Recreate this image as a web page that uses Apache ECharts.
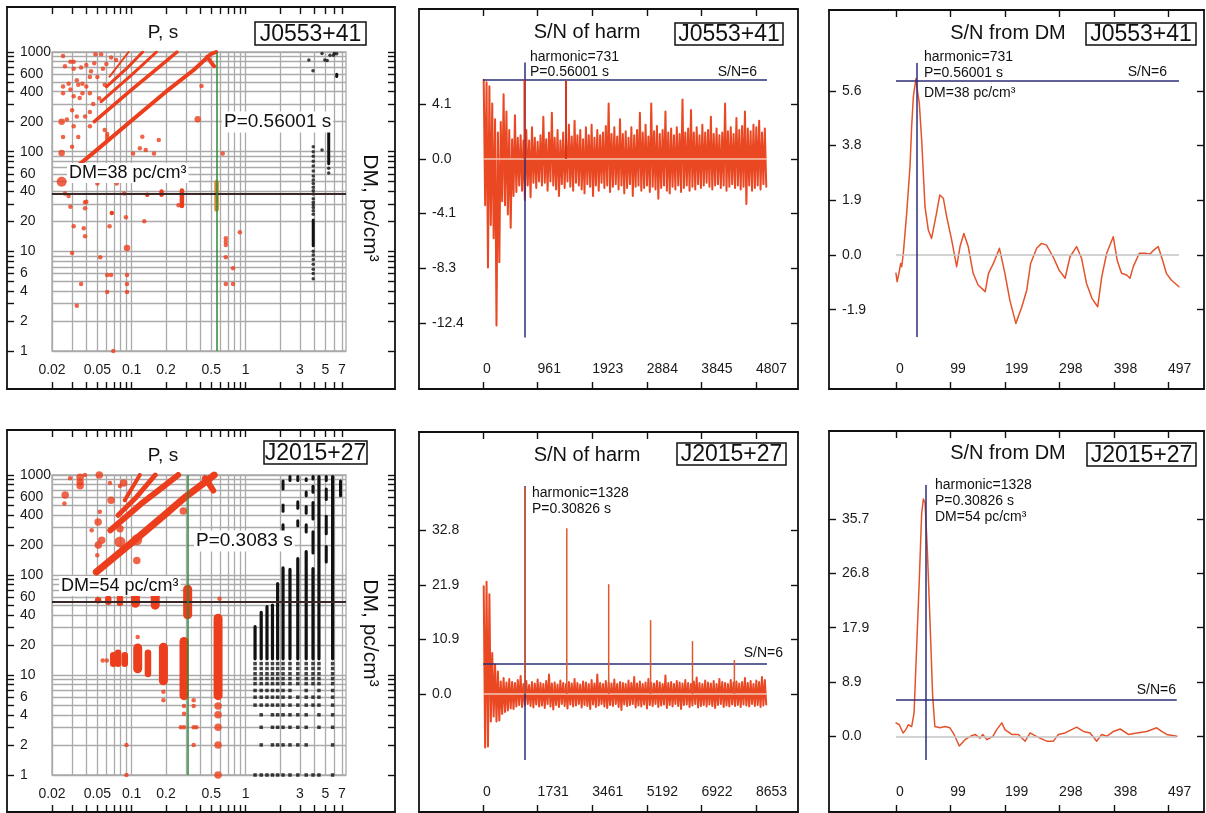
<!DOCTYPE html>
<html>
<head>
<meta charset="utf-8">
<title>Pulsar candidates J0553+41 / J2015+27</title>
<script src="https://cdn.jsdelivr.net/npm/echarts@6.0.0/dist/echarts.min.js"></script>
<style>
  html, body { margin: 0; padding: 0; background: #fff; }
  #chart { width: 1206px; height: 813px; }
</style>
</head>
<body>
<div id="chart"></div>
<script>
// ---- tick values / labels ----
var pGrid = [0.02,0.03,0.04,0.05,0.06,0.07,0.08,0.09,0.1,0.2,0.3,0.4,0.5,0.6,0.7,0.8,0.9,1,2,3,4,5,6,7];
var pLabels = [0.02,0.05,0.1,0.2,0.5,1,3,5,7];
var dmGrid = [1,2,3,4,5,6,7,8,9,10,20,30,40,50,60,70,80,90,100,200,300,400,500,600,700,800,900,1000];
var dmLabels = [1,2,4,6,10,20,40,60,100,200,400,600,1000];
var harm1Ticks = [0,961,1923,2884,3845,4807];
var harm1YTicks = [4.13,0,-4.13,-8.26,-12.39];
var harm2Ticks = [0,1731,3461,5192,6922,8653];
var harm2YTicks = [0,10.93,21.87,32.8];
var dmTicks = [0,99,199,298,398,497];
var sn1YTicks = [5.64,3.76,1.88,0,-1.88];
var sn2YTicks = [0,8.93,17.86,26.79,35.72];

// ---- J0553+41 : P-DM plane ----
var a1Period = 0.56001, a1DM = 38;
var a1Streak1 = [[0.034,73],[0.045,95],[0.1,205],[0.2,400],[0.35,660],[0.5,960],[0.55,1000]];
var a1Hook = [[0.46,900],[0.5,780],[0.53,720]];
var a1Streak2 = [[0.047,200],[0.1,420],[0.18,730],[0.25,1000]];
var a1Streak3 = [[0.054,317],[0.1,590],[0.165,1000]];
var a1Streak4 = [[0.06,447],[0.09,680],[0.125,1000]];
var a1Streak5 = [[0.064,565],[0.094,1000]];
var a1Dots = [
  [0.025,910],[0.029,800],[0.031,800],[0.048,950],[0.054,950],[0.066,880],[0.073,830],
  [0.026,720],[0.031,680],[0.036,700],[0.04,740],[0.044,640],[0.047,770],
  [0.025,450],[0.028,480],[0.029,420],[0.033,520],[0.034,470],[0.037,480],[0.04,450],[0.043,560],[0.05,560],[0.056,680],[0.06,760],
  [0.025,385],[0.031,360],[0.035,345],[0.037,385],[0.043,385],[0.046,300],[0.052,343],[0.058,470],
  [0.027,210],[0.03,260],[0.033,225],[0.039,225],[0.043,250],
  [0.025,140],[0.031,180],[0.034,140],[0.043,180],[0.058,165],[0.061,150],[0.061,140],[0.061,131],
  [0.03,112],[0.124,141],[0.173,131],[0.133,104],[0.103,96],[0.118,108],[0.157,96],[0.41,455],[0.63,96],
  [0.026,38],[0.028,36],[0.05,48],[0.074,48],[0.096,51],[0.086,38],[0.04,31.5],[0.029,28],[0.039,31],[0.039,27],
  [0.089,22],[0.129,20],[0.031,17.9],[0.038,17],[0.039,14.2],[0.064,17.9],[0.03,9.6],[0.053,8.7],
  [0.061,5.8],[0.066,5.8],[0.091,5.8],[0.036,4.7],[0.091,4.7],[0.061,3.9],[0.091,3.9],[0.033,2.85],[0.069,1],
  [0.67,13.5],[0.67,12.5],[0.67,11.6],[0.89,15.5],[0.67,8.7],[0.775,6.75],[0.67,4.7],[0.775,4.7],[0.258,29]
];
var a1MidDots = [[0.0243,200],[0.0243,97],[0.38,211],[0.091,10.8]];
var a1BigDots = [[0.0243,50]];
var a1RedBars = [[0.183,35,42],[0.276,27,43],[0.137,35,39],[0.067,23,25.5]];
var a1OrangeBars = [[0.556,25,52]];
var a1BlackDots = [
  [3.92,112],[3.92,100],[3.92,90],[3.92,80],[3.92,72],[3.92,64],[3.92,57],[3.92,52],[3.92,48],[3.92,44],
  [3.92,40.5],[3.92,37.5],[3.92,33.6],[3.92,31],[3.92,29.4],[3.92,27.5],[3.92,25.5],[3.92,23.6],
  [3.92,10],[3.92,9.2],[3.92,8.3],[3.92,7.4],[3.92,6.6],[3.92,6],[3.92,5.3],
  [5.36,68],[5.36,61],[4.68,104],[3.59,829],[3.9,648],[4.68,968],[4.95,829],[5.2,820],[5.5,930],[5.9,930],[6.0,968],[6.3,960]
];
var a1BlackBars = [[3.92,11,21.4],[5.36,73,165],[6.3,550,620]];

// ---- J2015+27 : P-DM plane ----
var a2Period = 0.3083, a2DM = 54;
var a2Streak1 = [[0.049,107],[0.1,210],[0.2,410],[0.3,610],[0.455,870],[0.53,1000]];
var a2Hook = [[0.44,930],[0.49,780],[0.52,700]];
var a2Streak2 = [[0.065,280],[0.12,510],[0.2,800],[0.256,1000]];
var a2Streak3 = [[0.076,396],[0.11,600],[0.161,1000]];
var a2Streak4 = [[0.087,559],[0.118,1000]];
var a2BigDots = [[0.079,214],[0.111,225]];
var a2MidDots = [
  [0.066,560],[0.052,1000],[0.0261,631],[0.111,140],[0.079,290],[0.0508,339],[0.0546,222],[0.051,200],
  [0.284,436],[0.0353,950],[0.0353,850],[0.0353,780],[0.085,830],
  [0.573,4.9],[0.573,4],[0.573,3],[0.573,2],[0.573,1]
];
var a2SmallDots = [
  [0.0257,520],[0.0288,928],[0.0389,1000],[0.0526,430],[0.0446,280],[0.0499,158],[0.59,58],[0.0645,830],[0.0789,775],
  [0.0557,14],[0.0605,14],[0.19,6.8],[0.19,5.6],[0.288,4.9],[0.288,4.1],[0.288,3],[0.35,5.6],[0.35,4.9],
  [0.35,3],[0.35,2],[0.37,3],[0.113,24],[0.09,2],[0.09,1],[0.27,3]
];
var a2RedBarsWide = [[0.31,36,80],[0.161,45,70],[0.108,47,66],[0.113,10.4,20.7],[0.19,7.9,21],[0.288,5.6,24],[0.573,5.6,41]];
var a2RedBarsNarrow = [[0.0508,52,60],[0.0623,50,62],[0.0789,49,63],[0.069,12,17],[0.076,12,18],[0.087,12,17],[0.139,9.5,18]];
var a2BlackBars = [[1.21,14,31.6],[1.37,14,44],[1.54,14,50],[1.72,14,52],[1.91,14,85],[2.13,14,122],[2.45,14,118],
  [2.87,14,151],[3.4,14,178],[3.9,14,120],[4.4,14,1000],[5.8,14,1000]];
var a2BlackDashes = [[2.13,250,330],[2.13,420,520],[2.13,700,900],[2.87,300,360],[2.87,450,560],[3.4,260,330],
  [3.4,400,500],[3.4,600,700],[3.4,850,950],[3.9,160,280],[3.9,350,550],[3.9,650,800],[3.9,880,1000],
  [5.1,130,200],[5.1,250,400],[5.1,550,750],[5.1,850,1000],[6.8,600,900],[2.45,850,1000],[2.87,850,1000]];
var a2BlackRows = [
  [13, [1.21,1.37,1.54,1.72,1.91,2.13,2.45,2.87,3.4,3.9,4.4,5.8]],
  [11.6, [1.21,1.37,1.54,1.72,1.91,2.13,2.45,2.87,3.4,3.9,4.4,5.8]],
  [10.3, [1.21,1.37,1.54,1.72,1.91,2.13,2.45,2.87,3.4,3.9,4.4,5.8]],
  [9.2, [1.21,1.37,1.54,1.72,1.91,2.13,2.45,2.87,3.4,3.9,4.4,5.8]],
  [8.2, [1.21,1.37,1.54,1.72,1.91,2.13,2.45,2.87,3.4,3.9,4.4,5.8]],
  [7, [1.21,1.37,1.54,1.72,1.91,2.13,2.45,3.4,4.4,5.8]],
  [6, [1.21,1.37,1.54,1.72,1.91,2.13,2.45,2.87,3.4,3.9,4.4,5.8]],
  [5, [1.21,1.37,1.54,1.72,1.91,2.13,2.45,2.87,3.4,3.9,4.4,5.8]],
  [4, [1.37,1.72,1.91,2.13,2.45,2.87,3.4,4.4,5.8]],
  [3, [1.37,1.72,1.91,2.13,2.45,2.87,3.4,4.4,5.8]],
  [2, [1.37,1.72,1.91,2.13,2.45,2.87,3.4,5.8]],
  [1, [1.21,1.37,1.54,1.72,1.91,2.13,2.45,2.87,3.4,3.9,4.4,5.8]]
];

// ---- S/N of harmonics (per bin: upper / lower excursion) ----
var harm1Step = 50;
var harm1Up = [6.0,5.8,5.5,4.2,3.0,2.0,2.8,4.9,3.6,2.2, 1.5,3.3,1.6,1.8,1.4,2.2,1.4,2.4,1.6,1.3,
  1.8,3.2,1.5,2.0,3.5,1.6,2.2,1.4,2.0,1.5, 2.6,1.7,2.9,1.8,2.2,1.5,2.4,1.8,2.6,1.6,
  2.2,1.8,2.0,2.5,4.2,1.9,2.4,1.7,3.0,1.9, 2.1,1.6,2.4,1.8,2.2,3.5,2.0,2.6,1.7,4.2,
  2.1,2.5,1.9,2.2,3.6,2.0,2.3,1.8,2.4,1.9, 4.5,2.0,2.3,3.7,2.0,2.4,1.8,2.6,2.0,2.2,
  3.2,1.9,2.3,1.8,2.0,4.2,2.1,2.4,1.9,3.1, 2.2,2.5,3.6,2.3,2.1,2.6,2.4,2.9,2.0,2.3];
var harm1Lo = [-3.5,-8.2,-5.0,-6.0,-12.6,-7.8,-3.2,-3.5,-4.2,-5.2, -2.8,-2.5,-2.0,-2.4,-3.1,-2.0,-2.9,-1.8,-2.2,-1.7,
  -2.0,-1.8,-2.4,-1.7,-2.0,-2.3,-2.8,-1.9,-2.2,-1.7, -2.1,-2.4,-1.8,-2.0,-2.3,-2.6,-1.9,-2.1,-2.8,-2.0,
  -2.4,-1.8,-2.2,-2.0,-2.5,-2.1,-1.9,-2.3,-2.0,-2.6, -2.2,-1.9,-2.8,-2.1,-2.0,-2.4,-2.2,-2.0,-2.5,-2.1,
  -2.3,-3.0,-2.2,-2.0,-2.4,-2.6,-2.1,-2.3,-2.0,-2.5, -2.2,-2.0,-2.4,-2.1,-2.3,-1.9,-2.2,-2.0,-1.8,-2.1,
  -2.3,-2.0,-1.9,-2.2,-2.0,-2.4,-2.1,-1.9,-2.2,-2.0, -2.3,-2.1,-3.4,-2.0,-2.4,-2.2,-2.0,-2.3,-1.9,-2.1];
var harm1Spikes = [[731,6.0],[1462,5.9]];
var harm1Mark = [731,-13.5,7.3];

var harm2Step = 90;
var harm2Up = [21.6,22.5,20.0,8.2,5.9,4.5,2.5,3.2,2.3,3.0, 2.4,2.2,2.8,3.6,2.0,2.6,1.8,2.4,2.1,2.9,
  2.2,2.0,2.6,3.9,2.1,2.3,1.9,2.7,2.2,2.0, 2.4,2.1,3.0,2.2,1.9,2.5,2.3,2.0,2.8,2.1,
  3.9,2.2,2.0,2.6,2.3,2.1,2.9,2.0,2.4,2.2, 2.0,2.7,2.2,3.4,2.1,2.5,2.0,2.3,3.0,2.2,
  2.1,2.6,2.3,2.0,3.7,2.2,2.4,2.0,2.6,2.3, 2.1,2.8,2.2,2.0,2.5,3.3,2.2,2.0,2.7,2.3,
  2.1,2.6,2.0,3.0,2.4,2.2,2.0,2.8,2.3,2.5, 2.1,2.4,3.2,2.2,2.6,2.0,2.7,2.4,3.4,2.8];
var harm2Lo = [-10.7,-10.5,-5.5,-4.5,-5.5,-5.3,-4.0,-3.6,-3.3,-2.9, -3.0,-2.5,-2.2,-2.6,-2.3,-2.0,-2.4,-2.7,-2.1,-2.5,
  -2.3,-2.8,-2.0,-2.5,-3.1,-2.2,-2.6,-2.0,-2.4,-2.9, -2.1,-2.5,-2.3,-2.0,-2.7,-2.2,-2.4,-3.0,-2.1,-2.6,
  -2.3,-2.0,-2.5,-2.8,-2.2,-2.4,-2.0,-2.6,-3.2,-2.1, -2.4,-2.2,-2.0,-2.7,-2.3,-2.5,-2.1,-2.9,-2.2,-2.4,
  -2.0,-2.6,-2.3,-2.1,-2.8,-2.2,-2.5,-2.0,-2.4,-3.0, -2.2,-2.1,-2.6,-2.3,-2.0,-2.7,-2.4,-2.2,-2.5,-2.1,
  -2.4,-2.8,-2.2,-2.0,-2.6,-2.3,-2.5,-2.1,-2.4,-2.2, -2.6,-2.1,-2.3,-2.5,-2.0,-2.4,-2.2,-2.6,-2.3,-2.1];
var harm2Spikes = [[1328,41.6],[2656,33.2],[3984,22.0],[5312,14.8],[6640,10.6],[7968,6.8]];
var harm2Mark = [1328,-13.2,41.7];

// ---- S/N versus DM ----
var snDm1 = [[0,-0.63],[2,-0.92],[6,-0.57],[8.5,-0.29],[10.4,-0.4],[13.4,0.06],[19.5,1.43],[25.6,3.04],[28.6,4.41],
  [31.7,5.44],[34.7,5.84],[36.5,6.07],[39,5.67],[42.6,5.21],[46.9,3.95],[53,1.66],[59,0.86],[65,0.57],[68,0.61],
  [74,1.43],[80,2.06],[86.5,1.95],[92.6,1.32],[101.7,0.52],[110.8,-0.4],[117,0.29],[124,0.74],[132,0.29],[141,-0.63],
  [150,-1.03],[163,-1.26],[169,-0.63],[178,-0.29],[189,0.23],[199,-0.63],[208,-1.55],[219,-2.35],[230,-1.78],
  [239,-1.2],[246,-0.29],[257,0.23],[266,0.4],[275,0.34],[287,-0.06],[298,-0.52],[309,-0.8],[318,-0.06],[330,0.29],
  [339,-0.11],[348,-0.97],[358,-1.49],[368.5,-1.78],[376,-0.74],[385,0.06],[397,0.63],[404,-0.17],[412,-0.63],
  [421.5,-0.69],[427.5,-0.8],[433.6,-0.4],[444.6,0.06],[455,0.06],[464,0.03],[471,0.17],[479,0.29],[487,-0.17],
  [494,-0.63],[503,-0.86],[517,-1.09]];
var snDm1Mark = [38,-2.82,6.6];
var snDm2 = [[0,2.2],[6,1.9],[13,0.55],[18,1.1],[22.5,1.9],[28.6,1.6],[33,3.8],[37.8,14.8],[42.6,25.8],[46.9,36.7],
  [50,39],[53,38.4],[57,31.2],[62,19.2],[67,6.6],[71,1.6],[80,1.4],[89.5,1.6],[98.6,1.4],[106,0.3],[115.7,-1.6],
  [126,-0.55],[138.4,0.1],[144.5,0.3],[153.6,-0.3],[158.5,0.3],[166,-0.55],[177,0],[184,1.1],[193.3,2.2],[199,1.1],
  [211.5,0.3],[223.6,0.3],[236,-0.8],[245,0.55],[254,0.1],[263,-0.3],[275.5,-0.8],[287.6,-0.8],[296.8,0.3],
  [309,0.55],[321,1.1],[330,1.5],[342.4,0.8],[354.6,0.55],[366.8,-0.8],[376,0.3],[385,0],[397.3,0.8],[409.5,1.2],
  [424.7,0.3],[440,0.55],[458,0.8],[476.4,1.4],[485.5,0.8],[494.6,0.3],[513,0]];
var snDm2Mark = [54,-3.9,41.3];
var snLevel = 6;

// ---------------------------------------------------------------
var FONT = '"Liberation Sans", Arial, sans-serif';
var RED = '#ec3e1d';
var BAND = '#ea4823';
var NAVY = '#2c2e7a';
var GRID_C = '#aaaaaa';
var P_MIN = 0.02, P_MAX = 7.6, DM_MIN = 1, DM_MAX = 1000;

var grids = [], xAxes = [], yAxes = [], series = [], graphics = [];

// value range [v0,v1] sits at pixels [p0,p1]; return values at frame pixels f0,f1
function lin(v0, v1, p0, p1, f0, f1) {
  var k = (v1 - v0) / (p1 - p0);
  return [v0 + (f0 - p0) * k, v0 + (f1 - p0) * k];
}
function logRange(v0, v1, p0, p1, f0, f1) {
  var r = lin(Math.log10(v0), Math.log10(v1), p0, p1, f0, f1);
  return [Math.pow(10, r[0]), Math.pow(10, r[1])];
}
function addGrid(r, border) {
  grids.push({
    left: r[0], top: r[1], width: r[2] - r[0], height: r[3] - r[1],
    containLabel: false, outerBoundsMode: 'none',
    show: !!border, borderColor: GRID_C, borderWidth: 1.3, backgroundColor: 'transparent'
  });
  return grids.length - 1;
}
function edgeAxis(dim, gi, pos, type, range, ticks, label) {
  var list = dim === 'x' ? xAxes : yAxes;
  list.push({
    gridIndex: gi, type: type, position: pos, min: range[0], max: range[1],
    axisLine: { show: true, onZero: false, lineStyle: { color: '#111', width: 1.8 } },
    axisTick: { show: true, inside: true, length: 7, customValues: ticks, lineStyle: { color: '#111', width: 1.4 } },
    axisLabel: label ? Object.assign({ show: true, inside: true, color: '#1a1a1a', fontSize: 14, fontFamily: FONT }, label) : { show: false },
    splitLine: { show: false }
  });
  return list.length - 1;
}

function linePanel(frame, xMap, yMap, xTicks, yTicks) {
  var gi = addGrid(frame, false);
  var xr = lin(xMap[0], xMap[1], xMap[2], xMap[3], frame[0], frame[2]);
  var yr = lin(yMap[0], yMap[1], yMap[2], yMap[3], frame[3], frame[1]);
  var xi = edgeAxis('x', gi, 'bottom', 'value', xr, xTicks, {
    customValues: xTicks, align: 'left', margin: 13, formatter: function (v) { return v.toFixed(0); }
  });
  edgeAxis('x', gi, 'top', 'value', xr, xTicks, null);
  var yi = edgeAxis('y', gi, 'left', 'value', yr, yTicks, {
    customValues: yTicks, margin: 13, formatter: function (v) { return v.toFixed(1); }
  });
  edgeAxis('y', gi, 'right', 'value', yr, yTicks, null);
  return { x: xi, y: yi };
}

function scatterPanel(frame, inner) {
  var go = addGrid(frame, false);
  var gi = addGrid(inner, true);
  var xr = logRange(P_MIN, P_MAX, inner[0], inner[2], frame[0], frame[2]);
  var yr = logRange(DM_MIN, DM_MAX, inner[3], inner[1], frame[3], frame[1]);
  edgeAxis('x', go, 'bottom', 'log', xr, pGrid, null);
  edgeAxis('x', go, 'top', 'log', xr, pGrid, null);
  edgeAxis('y', go, 'left', 'log', yr, dmGrid, null);
  edgeAxis('y', go, 'right', 'log', yr, dmGrid, null);
  xAxes.push({
    gridIndex: gi, type: 'log', min: P_MIN, max: P_MAX, position: 'bottom',
    axisLine: { show: false, onZero: false }, axisTick: { show: false, customValues: pGrid },
    axisLabel: { customValues: pLabels, margin: 12, color: '#1a1a1a', fontSize: 14, fontFamily: FONT,
      formatter: function (v) { return String(v); } },
    splitLine: { show: true, lineStyle: { color: GRID_C, width: 1.3 } }
  });
  yAxes.push({
    gridIndex: gi, type: 'log', min: DM_MIN, max: DM_MAX, position: 'left',
    axisLine: { show: false, onZero: false }, axisTick: { show: false, customValues: dmGrid },
    axisLabel: { customValues: dmLabels, margin: 32, align: 'left', color: '#1a1a1a', fontSize: 14, fontFamily: FONT,
      formatter: function (v) { return String(v); } },
    splitLine: { show: true, lineStyle: { color: GRID_C, width: 1.3 } }
  });
  return { x: xAxes.length - 1, y: yAxes.length - 1 };
}

function capsule(color, width) {
  return function (params, api) {
    var top = api.coord([api.value(0), api.value(2)]);
    var bot = api.coord([api.value(0), api.value(1)]);
    var h = Math.max(bot[1] - top[1], width);
    return { type: 'rect', shape: { x: top[0] - width / 2, y: (top[1] + bot[1]) / 2 - h / 2, width: width, height: h, r: width / 2 },
      style: { fill: color } };
  };
}
function stick(color, width) {
  return function (params, api) {
    var a = api.coord([api.value(0), 0]);
    var b = api.coord([api.value(0), api.value(1)]);
    return { type: 'line', shape: { x1: a[0], y1: a[1], x2: b[0], y2: b[1] }, style: { stroke: color, lineWidth: width } };
  };
}

function addLine(ax, data, color, width, z) {
  series.push({ type: 'line', xAxisIndex: ax.x, yAxisIndex: ax.y, data: data, symbol: 'none', silent: true, z: z || 3,
    lineStyle: { color: color, width: width, cap: 'round', join: 'round' } });
}
function addDots(ax, data, color, size, symbol) {
  series.push({ type: 'scatter', xAxisIndex: ax.x, yAxisIndex: ax.y, data: data, symbol: symbol || 'circle',
    symbolSize: size, itemStyle: { color: color }, silent: true, z: 4 });
}
function addBars(ax, data, color, width) {
  series.push({ type: 'custom', xAxisIndex: ax.x, yAxisIndex: ax.y, data: data, renderItem: capsule(color, width),
    encode: { x: 0, y: [1, 2] }, silent: true, z: 4 });
}
function addSticks(ax, data, color, width, z) {
  series.push({ type: 'custom', xAxisIndex: ax.x, yAxisIndex: ax.y, data: data, renderItem: stick(color, width),
    encode: { x: 0, y: 1 }, silent: true, z: z });
}
function addMarks(ax, items, z) {
  series.push({ type: 'line', xAxisIndex: ax.x, yAxisIndex: ax.y, data: [], silent: true, z: z,
    markLine: { symbol: ['none', 'none'], silent: true, animation: false, label: { show: false }, data: items } });
}
function zigzag(up, lo, step) {
  var out = [];
  for (var i = 0; i < up.length; i++) {
    out.push([(i + 0.25) * step, up[i]]);
    out.push([(i + 0.75) * step, lo[i]]);
  }
  return out;
}
function text(x, y, s, size, align, extra) {
  graphics.push({ type: 'text', x: x, y: y, z: 100, rotation: (extra && extra.rotation) || 0,
    style: Object.assign({ text: s, fill: '#111', fontSize: size, fontFamily: FONT, align: align || 'left', verticalAlign: 'middle' },
      (extra && extra.style) || {}) });
}
function boxText(x0, y0, x1, y1, s) {
  graphics.push({ type: 'rect', z: 99, shape: { x: x0, y: y0, width: x1 - x0, height: y1 - y0 },
    style: { fill: '#fff', stroke: '#111', lineWidth: 1.5 } });
  text((x0 + x1) / 2, (y0 + y1) / 2 + 1, s, 23, 'center');
}

// ---- panels ----
var A1 = scatterPanel([7, 7, 395, 389], [52, 52, 346, 351]);
var A2 = scatterPanel([7, 430, 395, 812], [52, 475, 346, 775]);
var B1 = linePanel([419, 9, 798, 389], [0, 4807, 483, 756], [-12.39, 4.13, 322.8, 104.4], harm1Ticks, harm1YTicks);
var B2 = linePanel([419, 432, 798, 812], [0, 8653, 483, 756], [0, 32.8, 694, 530.3], harm2Ticks, harm2YTicks);
var C1 = linePanel([829, 10, 1204, 389], [0, 497, 896, 1168], [-1.88, 5.64, 309.7, 90.9], dmTicks, sn1YTicks);
var C2 = linePanel([829, 431, 1204, 812], [0, 497, 896, 1168], [0, 35.72, 736.3, 519], dmTicks, sn2YTicks);

// J0553+41 P-DM
addMarks(A1, [{ yAxis: a1DM, lineStyle: { color: '#3a2828', width: 2, type: 'solid' } },
              { xAxis: a1Period, lineStyle: { color: '#2f8a36', width: 1.5, type: 'solid' } }], 2);
addLine(A1, a1Streak1, RED, 4); addLine(A1, a1Hook, RED, 4); addLine(A1, a1Streak2, RED, 3.5);
addLine(A1, a1Streak3, RED, 3); addLine(A1, a1Streak4, RED, 3); addLine(A1, a1Streak5, RED, 2);
addDots(A1, a1Dots, RED, 4.5); addDots(A1, a1MidDots, RED, 6.5); addDots(A1, a1BigDots, RED, 10);
addBars(A1, a1RedBars, RED, 4.5); addBars(A1, a1OrangeBars, '#cf8a2c', 4.5);
addDots(A1, a1BlackDots, '#111', 3.5); addBars(A1, a1BlackBars, '#111', 3);

// J2015+27 P-DM
var a2BlackDots = [];
a2BlackRows.forEach(function (row) { row[1].forEach(function (p) { a2BlackDots.push([p, row[0]]); }); });
addMarks(A2, [{ yAxis: a2DM, lineStyle: { color: '#3a2828', width: 2, type: 'solid' } },
              { xAxis: a2Period, lineStyle: { color: '#2f8a36', width: 1.5, type: 'solid' } }], 2);
addLine(A2, a2Streak1, RED, 7); addLine(A2, a2Hook, RED, 6); addLine(A2, a2Streak2, RED, 6);
addLine(A2, a2Streak3, RED, 5); addLine(A2, a2Streak4, RED, 4);
addDots(A2, a2SmallDots, RED, 4.5); addDots(A2, a2MidDots, RED, 7.5); addDots(A2, a2BigDots, RED, 11);
addBars(A2, a2RedBarsWide, RED, 9); addBars(A2, a2RedBarsNarrow, RED, 6.5);
addBars(A2, a2BlackBars, '#111', 3.2); addBars(A2, a2BlackDashes, '#111', 3);
addDots(A2, a2BlackDots, '#111', 3.5, 'rect');

// S/N of harmonics
var harm1End = harm1Up.length * harm1Step, harm2End = harm2Up.length * harm2Step;
addLine(B1, zigzag(harm1Up, harm1Lo, harm1Step), BAND, 2, 2);
addMarks(B1, [
  [{ coord: [0, 0], lineStyle: { color: '#f2c6b4', width: 1.5, type: 'solid' } }, { coord: [harm1End, 0] }],
  [{ coord: [0, snLevel], lineStyle: { color: NAVY, width: 1.5, type: 'solid' } }, { coord: [harm1End, snLevel] }],
  [{ coord: [harm1Mark[0], harm1Mark[1]], lineStyle: { color: NAVY, width: 1.5, type: 'solid' } }, { coord: [harm1Mark[0], harm1Mark[2]] }]
], 5);
addSticks(B1, harm1Spikes, '#d8321a', 2, 6);

addLine(B2, zigzag(harm2Up, harm2Lo, harm2Step), BAND, 2, 2);
addMarks(B2, [
  [{ coord: [0, 0], lineStyle: { color: '#f2c6b4', width: 1.5, type: 'solid' } }, { coord: [harm2End, 0] }],
  [{ coord: [0, snLevel], lineStyle: { color: NAVY, width: 1.5, type: 'solid' } }, { coord: [harm2End, snLevel] }],
  [{ coord: [harm2Mark[0], harm2Mark[1]], lineStyle: { color: NAVY, width: 1.5, type: 'solid' } }, { coord: [harm2Mark[0], harm2Mark[2]] }]
], 5);
addSticks(B2, harm2Spikes, '#e0582e', 1.5, 6);

// S/N versus DM
var dm1End = snDm1[snDm1.length - 1][0], dm2End = snDm2[snDm2.length - 1][0];
addMarks(C1, [[{ coord: [0, 0], lineStyle: { color: '#c4c4c4', width: 1.5, type: 'solid' } }, { coord: [dm1End, 0] }]], 1);
addLine(C1, snDm1, '#e4532b', 1.5, 3);
addMarks(C1, [
  [{ coord: [0, snLevel], lineStyle: { color: NAVY, width: 1.5, type: 'solid' } }, { coord: [dm1End, snLevel] }],
  [{ coord: [snDm1Mark[0], snDm1Mark[1]], lineStyle: { color: NAVY, width: 1.5, type: 'solid' } }, { coord: [snDm1Mark[0], snDm1Mark[2]] }]
], 5);
addMarks(C2, [[{ coord: [0, 0], lineStyle: { color: '#c4c4c4', width: 1.5, type: 'solid' } }, { coord: [dm2End, 0] }]], 1);
addLine(C2, snDm2, '#e4532b', 1.5, 3);
addMarks(C2, [
  [{ coord: [0, snLevel], lineStyle: { color: NAVY, width: 1.5, type: 'solid' } }, { coord: [dm2End, snLevel] }],
  [{ coord: [snDm2Mark[0], snDm2Mark[1]], lineStyle: { color: NAVY, width: 1.5, type: 'solid' } }, { coord: [snDm2Mark[0], snDm2Mark[2]] }]
], 5);

// ---- texts ----
var whiteBg = { style: { backgroundColor: '#fff', padding: [1, 2] } };
text(163, 33, 'P, s', 19, 'center');
boxText(255, 22, 366, 45, 'J0553+41');
text(370, 208, 'DM, pc/cm\u00b3', 21, 'center', { rotation: -Math.PI / 2 });
text(222, 122, 'P=0.56001 s', 19, 'left', whiteBg);
text(67, 173, 'DM=38 pc/cm\u00b3', 18, 'left', whiteBg);

text(163, 456, 'P, s', 19, 'center');
boxText(264, 441, 367, 464, 'J2015+27');
text(370, 633, 'DM, pc/cm\u00b3', 21, 'center', { rotation: -Math.PI / 2 });
text(194, 541, 'P=0.3083 s', 19, 'left', whiteBg);
text(59, 586, 'DM=54 pc/cm\u00b3', 18, 'left', whiteBg);

text(587, 32, 'S/N of harm', 20, 'center');
boxText(675, 23, 783, 45, 'J0553+41');
text(530, 57, 'harmonic=731', 14);
text(530, 72, 'P=0.56001 s', 14);
text(757, 72, 'S/N=6', 14, 'right');

text(587, 455, 'S/N of harm', 20, 'center');
boxText(677, 443, 786, 465, 'J2015+27');
text(532, 493, 'harmonic=1328', 14);
text(532, 509, 'P=0.30826 s', 14);
text(783, 653, 'S/N=6', 14, 'right');

text(1008, 33, 'S/N from DM', 20, 'center');
boxText(1086, 23, 1196, 45, 'J0553+41');
text(924, 57, 'harmonic=731', 14);
text(924, 73, 'P=0.56001 s', 14);
text(924, 93, 'DM=38 pc/cm\u00b3', 14);
text(1167, 72, 'S/N=6', 14, 'right');

text(1008, 453, 'S/N from DM', 20, 'center');
boxText(1087, 443, 1196, 466, 'J2015+27');
text(935, 485, 'harmonic=1328', 14);
text(935, 501, 'P=0.30826 s', 14);
text(935, 517, 'DM=54 pc/cm\u00b3', 14);
text(1176, 690, 'S/N=6', 14, 'right');

var chart = echarts.init(document.getElementById('chart'), null, { renderer: 'canvas' });
chart.setOption({
  animation: false,
  backgroundColor: '#fff',
  grid: grids,
  xAxis: xAxes,
  yAxis: yAxes,
  series: series,
  graphic: { elements: graphics }
});
</script>
</body>
</html>
